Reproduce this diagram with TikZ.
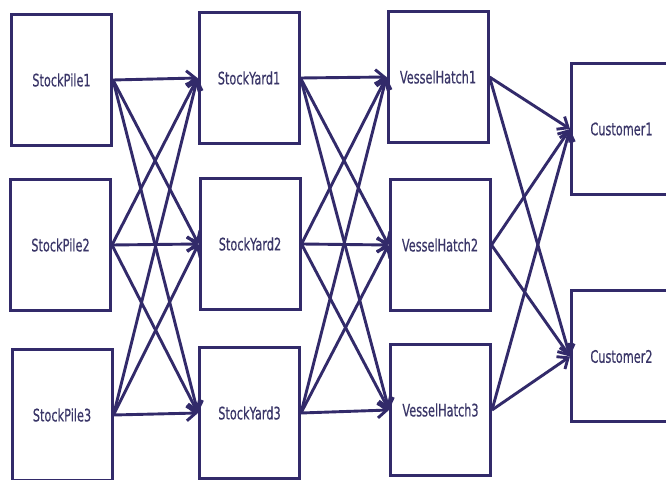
\documentclass[tikz,border=0pt]{standalone}
\usepackage{fontspec}
\setmainfont{DejaVu Sans}
\newfontfamily\labelfont[FakeBold=0.6]{DejaVu Sans}
\usetikzlibrary{arrows.meta}
\definecolor{ln}{RGB}{50,42,106}
\definecolor{tx}{RGB}{58,54,104}
\newcommand\boxlabel[1]{\scalebox{0.92}[1.4]{#1}}
\begin{document}
\begin{tikzpicture}[x=1pt,y=1pt,
  box/.style={draw=ln, line width=3pt, minimum width=100pt, minimum height=131pt, inner sep=0pt, text=tx, font=\labelfont\fontsize{12.3}{14}\selectfont},
  link/.style={draw=ln, line width=2.9pt, -{Straight Barb[length=9pt,width=15pt]}}]
\useasboundingbox (0,0) rectangle (666,479);
\fill[white] (0,0) rectangle (666,479);
\clip (0,0) rectangle (666,479);
\node[box] (sp1) at (61.5,399) {\boxlabel{StockPile1}};
\node[box] (sp2) at (60.5,234) {\boxlabel{StockPile2}};
\node[box] (sp3) at (62,64) {\boxlabel{StockPile3}};
\node[box] (sy1) at (249,401) {\boxlabel{StockYard1}};
\node[box] (sy2) at (250,235) {\boxlabel{StockYard2}};
\node[box] (sy3) at (249.5,66) {\boxlabel{StockYard3}};
\node[box] (vh1) at (438,402) {\boxlabel{VesselHatch1}};
\node[box] (vh2) at (440,234) {\boxlabel{VesselHatch2}};
\node[box] (vh3) at (440.5,69) {\boxlabel{VesselHatch3}};
\node[box] (c1) at (621.5,350) {\boxlabel{Customer1}};
\node[box] (c2) at (621.5,122.5) {\boxlabel{Customer2}};
\foreach \a in {1,2,3} {
  \foreach \b in {1,2,3} {
    \draw[link] (sp\a.east) -- (sy\b.west);
    \draw[link] (sy\a.east) -- (vh\b.west);
  }
  \foreach \b in {1,2} {
    \draw[link] (vh\a.east) -- (c\b.west);
  }
}
\end{tikzpicture}
\end{document}
